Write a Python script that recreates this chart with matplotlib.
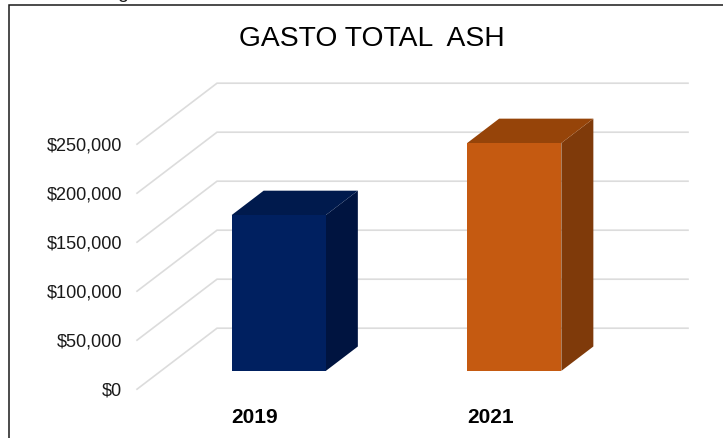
import matplotlib
matplotlib.use("Agg")
import matplotlib.pyplot as plt
from matplotlib.patches import Polygon, Rectangle
from matplotlib.transforms import ScaledTranslation

plt.rcParams["font.family"] = ["Liberation Sans", "DejaVu Sans"]

years = ["2019", "2021"]
gasto = [159000, 232500]
y_ticks = [0, 50000, 100000, 150000, 200000, 250000]
y_labels = ["$0", "$50,000", "$100,000", "$150,000", "$200,000", "$250,000"]
bar_colors = ["#002060", "#c55a11"]
top_colors = ["#001a4d", "#964409"]
side_colors = ["#001440", "#7f3a0a"]

W, H = 723, 439
bar_w = 0.4
# oblique offset of the back wall, in data units
depth_x = 80 / 235.5
depth_y = 61 / 0.00098
d0, d1 = 0.3, 0.7


def proj(x, y, d):
    return (x + d * depth_x, y + d * depth_y)


fig = plt.figure(figsize=(W / 100, H / 100), dpi=100)
ax = fig.add_axes([137 / W, 1 - 390.2 / H, 471 / W, 245 / H])
ax.set_xlim(0, 2)
ax.set_ylim(0, 250000)
for s in ax.spines.values():
    s.set_visible(False)
ax.patch.set_visible(False)

# gridlines: slanted floor part + back wall
for t in y_ticks:
    pts = [proj(0, t, 0), proj(0, t, 1), proj(2, t, 1)]
    ax.plot([p[0] for p in pts], [p[1] for p in pts], color="#dcdcdc", lw=1.2,
            clip_on=False, zorder=1, solid_joinstyle="miter")

for i, v in enumerate(gasto):
    x0 = i + 0.5 - bar_w / 2
    x1 = i + 0.5 + bar_w / 2
    top = [proj(x0, v, d0), proj(x1, v, d0), proj(x1, v, d1), proj(x0, v, d1)]
    side = [proj(x1, 0, d0), proj(x1, 0, d1), proj(x1, v, d1), proj(x1, v, d0)]
    front = [proj(x0, 0, d0), proj(x1, 0, d0), proj(x1, v, d0), proj(x0, v, d0)]
    ax.add_patch(Polygon(side, color=side_colors[i], lw=0, clip_on=False, zorder=3))
    ax.add_patch(Polygon(top, color=top_colors[i], lw=0, clip_on=False, zorder=3))
    ax.add_patch(Polygon(front, color=bar_colors[i], lw=0, clip_on=False, zorder=4))

ax.set_yticks(y_ticks, y_labels, fontsize=13.1, color="#1a1a1a")
ax.set_xticks([0.5, 1.5], years, fontsize=15, fontweight="bold", color="black")
ax.tick_params(axis="y", length=0, pad=10.5)
ax.tick_params(axis="x", length=0, pad=12.5)

# labels sit a little above their gridline ends
up = ScaledTranslation(0, 1 / 100, fig.dpi_scale_trans)
for lab in ax.get_yticklabels():
    lab.set_transform(lab.get_transform() + up)

fig.text(372 / W, 1 - 38.5 / H, "GASTO TOTAL  ASH", fontsize=20.3, ha="center", va="center", color="black")

# leftover of a line of text cut off by the top edge
fig.text(123 / W, 1 + 2 / H, "g", fontsize=14, ha="center", va="baseline", color="#1a1a1a")

# chart frame
fig.add_artist(Rectangle((8.5 / W, -0.05), 730 / W, 1.05 - 5.5 / H, transform=fig.transFigure,
                         fill=False, ec="#1a1a1a", lw=1.1))

fig.savefig("out.png", dpi=100)
